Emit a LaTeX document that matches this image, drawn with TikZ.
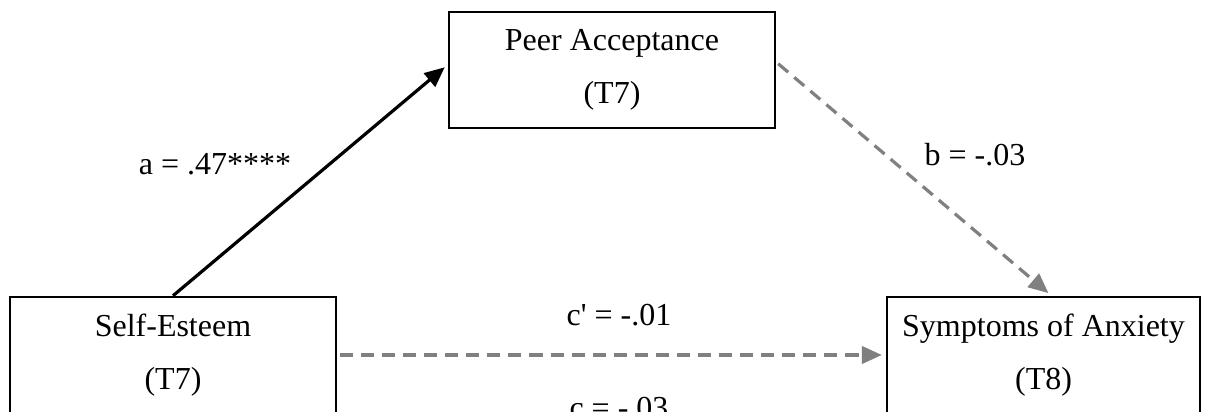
\documentclass[tikz,border=0pt]{standalone}
\usepackage{fontspec}
\setmainfont{Liberation Serif}
\usetikzlibrary{arrows.meta, positioning}

\begin{document}
\begin{tikzpicture}[
  box/.style={rectangle, draw, line width=0.9pt, align=center, font=\fontsize{12}{20}\selectfont, minimum height=1.53cm, inner sep=0pt},
  lbl/.style={font=\fontsize{12}{14}\selectfont, inner sep=0pt},
  sig/.style={draw, line width=1.2pt, -{Triangle[length=7.5pt, width=6.5pt]}, shorten >=1.5pt},
  nsig/.style={draw, gray, line width=1.2pt, dash pattern=on 4.9pt off 3pt, -{Triangle[length=7.5pt, width=6.5pt]}, shorten >=1.5pt, shorten <=1pt}
]
  \useasboundingbox (0,0) rectangle (15.935,-5.430);

  % Nodes
  \node[box, minimum width=4.297cm] (peer) at (8.066,-0.923) {Peer Acceptance\\(T7)};
  \node[box, minimum width=4.297cm] (se) at (2.280,-4.679) {Self-Esteem\\(T7)};
  \node[box, minimum width=4.125cm] (sym) at (13.754,-4.679) {Symptoms of Anxiety\\(T8)};

  % Paths
  \draw[sig] (se.north) -- ([yshift=2pt]peer.west);
  \draw[nsig] ([yshift=3pt]peer.east) -- ([xshift=3pt]sym.north);
  \draw[nsig] (se.east) -- (sym.west);

  % Coefficients
  \node[lbl] (la) at (2.834,-2.17) {a = .47****};
  \node[lbl] (lb) at (12.85,-2.04) {b = -.03};
  \node[lbl] (lcp) at (8.158,-4.152) {c\textquotesingle{} = -.01};
  \node[lbl] (lc) at (8.158,-5.38) {c = -.03};
\end{tikzpicture}
\end{document}
